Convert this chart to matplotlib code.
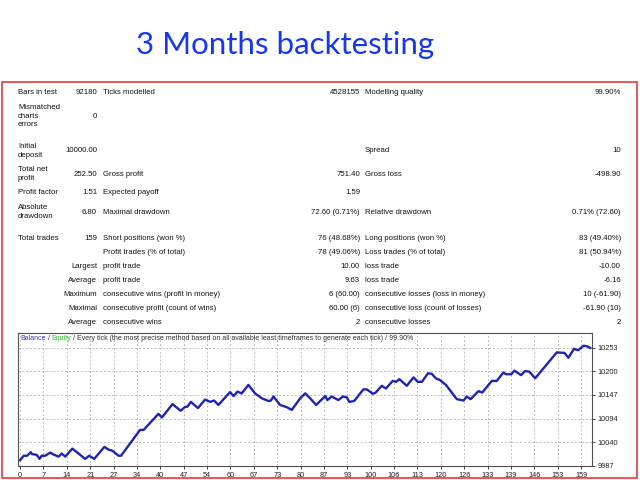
import numpy as np
import matplotlib.pyplot as plt

W, H = 640, 480

title = "3 Months backtesting"

# report table, one list per column (None = empty cell)
col_a = ["Bars in test", "Mismatched\ncharts\nerrors", "Initial\ndeposit", "Total net\nprofit",
         "Profit factor", "Absolute\ndrawdown", "Total trades", None, None, None, None, None, None]
col_b = ["92180", "0", "10000.00", "252.50", "1.51", "6.80", "159", None,
         "Largest", "Average", "Maximum", "Maximal", "Average"]
col_c = ["Ticks modelled", None, None, "Gross profit", "Expected payoff", "Maximal drawdown",
         "Short positions (won %)", "Profit trades (% of total)", "profit trade", "profit trade",
         "consecutive wins (profit in money)", "consecutive profit (count of wins)", "consecutive wins"]
col_d = ["4528155", None, None, "751.40", "1.59", "72.60 (0.71%)", "76 (48.68%)", "78 (49.06%)",
         "10.00", "9.63", "6 (60.00)", "60.00 (6)", "2"]
col_e = ["Modelling quality", None, "Spread", "Gross loss", None, "Relative drawdown",
         "Long positions (won %)", "Loss trades (% of total)", "loss trade", "loss trade",
         "consecutive losses (loss in money)", "consecutive loss (count of losses)", "consecutive losses"]
col_f = ["99.90%", None, "10", "-498.90", None, "0.71% (72.60)", "83 (49.40%)", "81 (50.94%)",
         "-10.00", "-6.16", "10 (-61.90)", "-61.90 (10)", "2"]

# balance curve vertices
trade_no = [0, 1, 2, 3, 3.3, 4.7, 5.5, 6.1, 7.1, 8.5, 9.4, 10.9, 11.8, 12.8, 14.8, 16.1, 18.4, 19.6,
            21, 23.9, 25, 26.2, 27.9, 28.6, 34, 35, 39.2, 40.2, 43.2, 45.5, 46.8, 47.4, 48.4, 50.4,
            52.4, 53.9, 55, 56.2, 59.5, 60.5, 61.6, 62.8, 64.7, 66.6, 68.5, 70.4, 71.1, 71.8, 73.7,
            75.6, 77, 79.4, 80.8, 82.2, 83.9, 86.5, 87.1, 88.3, 90.2, 91.5, 92.6, 93.3, 94.7, 97.3,
            98.3, 100, 100.8, 102.5, 103.7, 105.6, 106.6, 107.5, 109.6, 111.5, 112.7, 113.9, 115.6,
            116.7, 117.8, 119, 120.7, 123.8, 125.7, 126.6, 127.7, 129.9, 131, 133.7, 135.1, 137,
            137.7, 139.2, 140.1, 142, 143.1, 144.3, 146, 149.9, 152.1, 154.3, 155.4, 157, 158.2,
            159.7, 160.6, 161.6]
balance = [10000, 10010, 10010, 10018, 10014, 10012, 10003, 10010, 10010, 10017, 10013, 10008,
           10015, 10008, 10026, 10018, 10003, 10010, 10003, 10030, 10024, 10021, 10010, 10010,
           10068, 10068, 10104, 10096, 10126, 10111, 10120, 10120, 10131, 10117, 10136, 10131,
           10134, 10124, 10153, 10144, 10154, 10150, 10169, 10150, 10139, 10133, 10134, 10143,
           10124, 10119, 10113, 10139, 10150, 10139, 10124, 10144, 10135, 10143, 10135, 10143,
           10141, 10131, 10133, 10159, 10159, 10149, 10152, 10167, 10161, 10178, 10176, 10182,
           10167, 10186, 10176, 10176, 10195, 10194, 10184, 10180, 10169, 10137, 10134, 10143,
           10137, 10155, 10152, 10178, 10178, 10197, 10193, 10193, 10201, 10191, 10200, 10199,
           10184, 10221, 10242, 10241, 10230, 10250, 10247, 10257, 10256, 10252]

x_labels = ["0", "7", "14", "21", "27", "34", "40", "47", "54", "60", "67", "73", "80", "87",
            "93", "100", "106", "113", "120", "126", "133", "139", "146", "153", "159"]
y_ticks = [9987, 10040, 10094, 10147, 10200, 10253]

legend_parts = [("Balance", "#3a3aa8"), (" / ", "#303030"), ("Equity", "#30c030"),
                (" / Every tick (the most precise method based on all available least "
                 "timeframes to generate each tick) / 99.90%", "#303030")]

# layout (pixels from top-left)
row_y = [92, 116, 151, 174, 193, 212, 238, 252, 266, 281, 295, 309, 323]
x_b, x_c, x_d, x_e, x_f = 97, 103, 360, 365, 621

FONT = "Liberation Sans"
FS = 5.6
TXT = "#111111"

fig = plt.figure(figsize=(6.4, 4.8), dpi=100)


def px_text(x, y, s, ha="left", **kw):
    fig.text(x / W, 1 - y / H, s, ha=ha, va="center", family=FONT, fontsize=FS,
             color=TXT, linespacing=1.25, **kw)


fig.text(285 / W, 1 - 45 / H, title, ha="center", va="center", family="Lato",
         fontsize=22.5, color="#1636f0")

fig.patches.append(plt.Rectangle((2 / W, 2 / H), 635 / W, (478 - 82) / H, transform=fig.transFigure,
                                 fill=False, edgecolor="#e8383d", linewidth=1.2))

for i, y in enumerate(row_y):
    if col_a[i]:
        px_text(18, y, col_a[i])
    if col_b[i]:
        px_text(x_b, y, col_b[i], ha="right")
    if col_c[i]:
        px_text(x_c, y, col_c[i])
    if col_d[i]:
        px_text(x_d, y, col_d[i], ha="right")
    if col_e[i]:
        px_text(x_e, y, col_e[i])
    if col_f[i]:
        px_text(x_f, y, col_f[i], ha="right")

ax = fig.add_axes([18 / W, 1 - 466 / H, (592 - 18) / W, (466 - 333) / H])
ax.plot(trade_no, balance, color="#1f24b0", linewidth=1.7, solid_joinstyle="round")

x_pos = np.linspace(0, 159, len(x_labels))
ax.set_xticks(x_pos)
ax.set_xticklabels(x_labels)
ax.set_yticks([9987 + k * 53.2 for k in range(len(y_ticks))])
ax.set_yticklabels([str(v) for v in y_ticks])
ax.set_xlim(-0.6, 162.1)
ax.set_ylim(9987, 10285.6)

ax.yaxis.tick_right()
ax.tick_params(axis="both", labelsize=5.3, colors="#202020", length=2.5, width=0.6, pad=1.5)
for lab in ax.get_xticklabels() + ax.get_yticklabels():
    lab.set_family(FONT)
ax.grid(True, color="#bdbdbd", linestyle=(0, (2, 2)), linewidth=0.7)
for sp in ax.spines.values():
    sp.set_color("#505050")
    sp.set_linewidth(0.8)

prev = None
for s, c in legend_parts:
    if prev is None:
        prev = ax.text(2 / 574, 1 - 5 / 133, s, transform=ax.transAxes, ha="left", va="center",
                       family=FONT, fontsize=5.0, color=c)
    else:
        prev = ax.annotate(s, xy=(1, 0), xycoords=prev, ha="left", va="bottom",
                           family=FONT, fontsize=5.0, color=c)

fig.savefig("out.png", dpi=100)
